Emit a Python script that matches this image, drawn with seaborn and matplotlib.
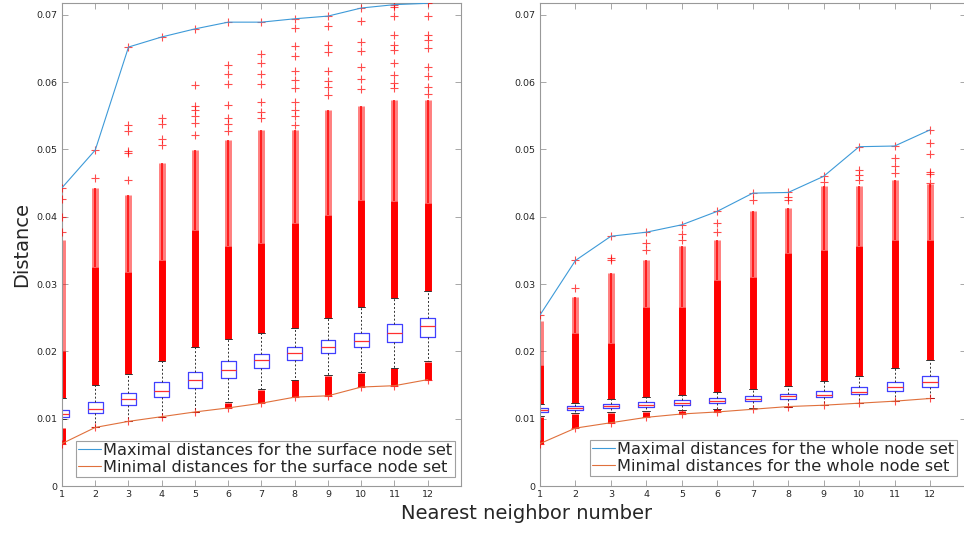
import matplotlib
matplotlib.use("Agg")
import matplotlib.pyplot as plt
import numpy as np
import pandas as pd
import seaborn as sns

nan = np.nan
neighbors = list(range(1, 13))

# surface node set (left panel)
surf_max = [0.0443, 0.0499, 0.0652, 0.0667, 0.0679, 0.0689, 0.0689, 0.0694, 0.0698, 0.0710, 0.0715, 0.0717]
surf_min = [0.0063, 0.0087, 0.0096, 0.0103, 0.0110, 0.0116, 0.0123, 0.0132, 0.0134, 0.0147, 0.0149, 0.0158]
surf_q1 = [0.0102, 0.0108, 0.0120, 0.0132, 0.0145, 0.0160, 0.0175, 0.0187, 0.0197, 0.0206, 0.0214, 0.0222]
surf_med = [0.0107, 0.0115, 0.0129, 0.0141, 0.0158, 0.0173, 0.0187, 0.0198, 0.0207, 0.0216, 0.0227, 0.0237]
surf_q3 = [0.0113, 0.0125, 0.0138, 0.0154, 0.0170, 0.0185, 0.0196, 0.0207, 0.0217, 0.0228, 0.0240, 0.0249]
surf_whi = [0.0130, 0.0150, 0.0166, 0.0186, 0.0207, 0.0218, 0.0227, 0.0235, 0.0249, 0.0266, 0.0279, 0.0290]
surf_wlo = [0.0099, 0.0087, 0.0096, 0.0103, 0.0110, 0.0125, 0.0144, 0.0158, 0.0165, 0.0169, 0.0176, 0.0185]
surf_low_top = [0.0086, nan, nan, nan, nan, 0.0124, 0.0143, 0.0157, 0.0164, 0.0168, 0.0175, 0.0184]
surf_solid_top = [0.0200, 0.0325, 0.0318, 0.0335, 0.0380, 0.0356, 0.0361, 0.0390, 0.0403, 0.0425, 0.0423, 0.0420]
surf_semi_top = [0.0365, 0.0442, 0.0432, 0.0480, 0.0499, 0.0514, 0.0529, 0.0529, 0.0559, 0.0564, 0.0574, 0.0574]
surf_sparse = [
    [0.0378, 0.0400, 0.0426],
    [0.0458],
    [0.0455, 0.0495, 0.0498, 0.0527, 0.0536],
    [0.0507, 0.0515, 0.0538, 0.0546],
    [0.0522, 0.0539, 0.0549, 0.0558, 0.0564, 0.0596],
    [0.0527, 0.0538, 0.0547, 0.0566, 0.0597, 0.0612, 0.0626],
    [0.0547, 0.0556, 0.0571, 0.0597, 0.0612, 0.0628, 0.0641],
    [0.0536, 0.0549, 0.0559, 0.0571, 0.0591, 0.0603, 0.0616, 0.0638, 0.0653, 0.0680],
    [0.0581, 0.0593, 0.0601, 0.0616, 0.0644, 0.0655, 0.0683],
    [0.0590, 0.0604, 0.0623, 0.0646, 0.0659, 0.0691],
    [0.0591, 0.0598, 0.0611, 0.0628, 0.0648, 0.0655, 0.0670, 0.0698, 0.0711],
    [0.0583, 0.0593, 0.0609, 0.0623, 0.0651, 0.0663, 0.0670, 0.0698],
]

# whole node set (right panel)
whole_max = [0.0254, 0.0335, 0.0371, 0.0377, 0.0388, 0.0408, 0.0435, 0.0436, 0.0460, 0.0504, 0.0505, 0.0529]
whole_min = [0.0063, 0.0086, 0.0094, 0.0102, 0.0107, 0.0110, 0.0114, 0.0118, 0.0120, 0.0123, 0.0126, 0.0130]
whole_q1 = [0.0110, 0.0113, 0.0116, 0.0118, 0.0120, 0.0123, 0.0126, 0.0129, 0.0132, 0.0136, 0.0141, 0.0147]
whole_med = [0.0113, 0.0116, 0.0119, 0.0121, 0.0124, 0.0127, 0.0129, 0.0133, 0.0135, 0.0139, 0.0147, 0.0154]
whole_q3 = [0.0116, 0.0119, 0.0122, 0.0125, 0.0128, 0.0131, 0.0134, 0.0137, 0.0141, 0.0147, 0.0155, 0.0163]
whole_whi = [0.0122, 0.0124, 0.0129, 0.0132, 0.0135, 0.0139, 0.0144, 0.0149, 0.0156, 0.0164, 0.0175, 0.0187]
whole_wlo = [0.0104, 0.0108, 0.0110, 0.0111, 0.0113, 0.0115, 0.0116, 0.0118, 0.0120, 0.0123, 0.0126, 0.0130]
whole_low_top = [0.0103, 0.0107, 0.0109, 0.0110, 0.0112, 0.0114, 0.0115, nan, nan, nan, nan, nan]
whole_solid_top = [0.0180, 0.0227, 0.0212, 0.0266, 0.0266, 0.0306, 0.0311, 0.0346, 0.0351, 0.0356, 0.0366, 0.0366]
whole_semi_top = [0.0245, 0.0281, 0.0316, 0.0336, 0.0356, 0.0366, 0.0408, 0.0413, 0.0445, 0.0445, 0.0455, 0.0448]
whole_sparse = [
    [],
    [0.0294],
    [0.0336, 0.0338],
    [0.0351, 0.0361],
    [0.0365, 0.0374],
    [0.0378, 0.0390],
    [0.0425],
    [0.0425, 0.0430],
    [0.0452],
    [0.0455, 0.0462, 0.0470],
    [0.0465, 0.0475, 0.0487],
    [0.0450, 0.0464, 0.0467, 0.0493, 0.0510],
]

max_label_surf = "Maximal distances for the surface node set"
min_label_surf = "Minimal distances for the surface node set"
max_label_whole = "Maximal distances for the whole node set"
min_label_whole = "Minimal distances for the whole node set"

sns.set_style("white")
plt.rcParams["font.family"] = ["DejaVu Sans"]

fig = plt.figure(figsize=(9.64, 5.35), dpi=100)
ax_l = fig.add_axes([62 / 964, 49 / 535, 399 / 964, 482.7 / 535])
ax_r = fig.add_axes([540 / 964, 49 / 535, 425.5 / 964, 482.7 / 535])


def draw_panel(ax, vmax, vmin, q1, med, q3, whi, wlo, low_top, solid_top, semi_top, sparse, lab_max, lab_min):
    # five values per group give exact box stats with whis=inf
    rows = []
    for k, a, b, c, d, e in zip(neighbors, wlo, q1, med, q3, whi):
        for v in (a, b, c, d, e):
            rows.append((k, v))
    df = pd.DataFrame(rows, columns=["k", "d"])

    # outlier bands (dense '+' markers in the original)
    ax.vlines(neighbors, whi, solid_top, color="red", lw=5, zorder=2)
    ax.vlines(neighbors, solid_top, semi_top, color="red", lw=5, alpha=0.5, zorder=2)
    ax.vlines(neighbors, solid_top, semi_top, color="red", lw=1.2, alpha=0.9, zorder=2)
    lo = np.array(low_top)
    ok = ~np.isnan(lo)
    ax.vlines(np.array(neighbors)[ok], np.array(vmin)[ok], lo[ok], color="red", lw=5, zorder=2)

    sx, sy = [], []
    for k, vals in zip(neighbors, sparse):
        sx += [k] * len(vals)
        sy += vals
    sx += neighbors + neighbors
    sy += list(vmax) + list(vmin)
    sns.scatterplot(x=sx, y=sy, marker="+", s=40, color="red", linewidth=0.8,
                    alpha=0.7, legend=False, ax=ax, zorder=3)

    sns.boxplot(data=df, x="k", y="d", native_scale=True, whis=np.inf, width=0.45,
                fill=False, color="#4040ff", linewidth=0.9, ax=ax,
                medianprops={"color": "#ff3030", "linewidth": 0.9},
                whiskerprops={"color": "#333333", "linestyle": (0, (2, 2)), "linewidth": 0.7},
                capprops={"color": "#333333", "linewidth": 0.7})

    sns.lineplot(x=neighbors, y=vmax, color="#3d9ad8", lw=0.8, label=lab_max, ax=ax, zorder=4)
    sns.lineplot(x=neighbors, y=vmin, color="#e0703c", lw=0.8, label=lab_min, ax=ax, zorder=4)

    ax.set_ylim(0, 0.0717)
    ax.set_yticks(np.arange(0, 0.071, 0.01))
    ax.set_yticklabels(["0"] + [f"{v:.2f}" for v in np.arange(0.01, 0.071, 0.01)])
    ax.set_xticks(neighbors)
    ax.set_xticklabels([str(k) for k in neighbors])
    ax.set_xlabel("")
    ax.set_ylabel("")
    ax.tick_params(direction="in", length=4, width=0.6, color="#999999",
                   labelsize=6.8, labelcolor="#262626", top=True, right=True,
                   left=True, bottom=True, pad=3)
    for s in ax.spines.values():
        s.set_color("#999999")
        s.set_linewidth(0.8)


draw_panel(ax_l, surf_max, surf_min, surf_q1, surf_med, surf_q3, surf_whi, surf_wlo,
           surf_low_top, surf_solid_top, surf_semi_top, surf_sparse, max_label_surf, min_label_surf)
draw_panel(ax_r, whole_max, whole_min, whole_q1, whole_med, whole_q3, whole_whi, whole_wlo,
           whole_low_top, whole_solid_top, whole_semi_top, whole_sparse, max_label_whole, min_label_whole)

ax_l.set_xlim(1, 13)
ax_r.set_xlim(1, 13)

leg_kw = dict(loc="lower right", fontsize=11.6, frameon=True, fancybox=False,
              handlelength=1.4, handletextpad=0.15, borderpad=0.15, labelspacing=0.1,
              borderaxespad=0, edgecolor="#888888")
leg = ax_l.legend(bbox_to_anchor=(1 - 6 / 399, 9 / 483), **leg_kw)
leg.get_frame().set_linewidth(0.8)
leg = ax_r.legend(bbox_to_anchor=(1 - 8.5 / 425.5, 10 / 483), **leg_kw)
leg.get_frame().set_linewidth(0.8)

ax_l.set_ylabel("Distance", fontsize=14, labelpad=4)
fig.text(527 / 964, 12 / 535, "Nearest neighbor number", fontsize=14, ha="center", va="bottom")

fig.savefig("out.png", dpi=100)
